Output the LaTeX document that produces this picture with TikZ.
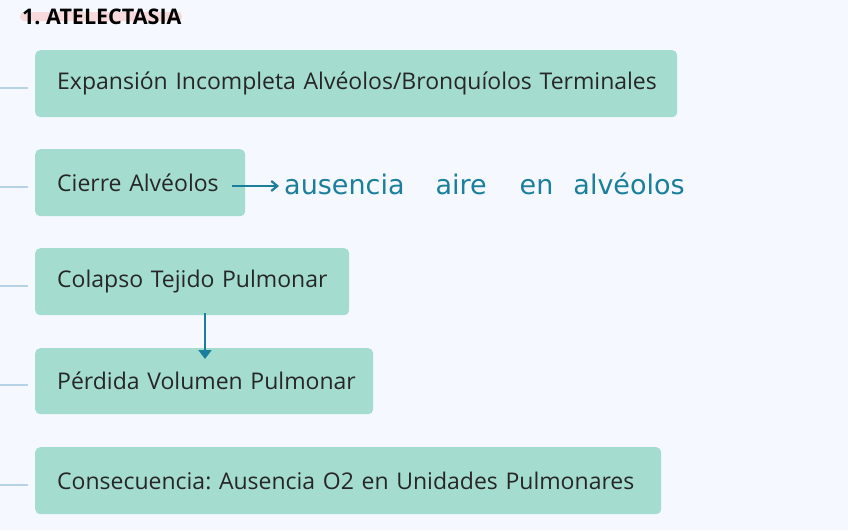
\documentclass[tikz,border=0pt]{standalone}
\usepackage{fontspec}
\setmainfont{Open Sans}
\newfontfamily\handfont{DejaVu Sans}
\usetikzlibrary{arrows.meta}
\frenchspacing
\definecolor{bg}{HTML}{F5F9FF}
\definecolor{boxfill}{HTML}{A4DDCF}
\definecolor{linkc}{HTML}{B5D3E4}
\definecolor{ink}{HTML}{1B7F9B}
\definecolor{hl}{HTML}{F8DADD}
\tikzset{
  topic/.style={fill=boxfill, rounded corners=5pt, anchor=north west, inner sep=0pt, text=black!85, font=\fontsize{23}{26}\selectfont},
  stub/.style={draw=linkc, line width=2pt},
  handarrow/.style={draw=ink, line width=2.2pt, -{Straight Barb[length=6pt,width=10pt]}},
}
\begin{document}
\begin{tikzpicture}[x=1pt,y=-1pt]
\useasboundingbox[fill=bg] (0,0) rectangle (848,530);
% title
\fill[hl, rounded corners=4pt] (20,12) rectangle (182,21);
\node[anchor=west, font=\bfseries\fontsize{21.5}{24}\selectfont, text=black, inner sep=0pt] (title) at (22,16.5) {1. ATELECTASIA};
% boxes
\node[topic, minimum width=642, minimum height=67, text width=642, align=left] (b1) at (35,50) {\hspace*{22pt}Expansión Incompleta Alvéolos/Bronquíolos Terminales};
\node[topic, minimum width=210, minimum height=67, text width=210, align=left] (b2) at (35,149) {\hspace*{22pt}Cierre Alvéolos};
\node[topic, minimum width=314, minimum height=67, text width=314, align=left] (b3) at (35,248) {\hspace*{22pt}Colapso Tejido Pulmonar};
\node[topic, minimum width=338, minimum height=66, text width=338, align=left] (b4) at (35,348) {\hspace*{22pt}Pérdida Volumen Pulmonar};
\node[topic, minimum width=626, minimum height=67, text width=626, align=left] (b5) at (35,447) {\hspace*{22pt}Consecuencia: Ausencia O2 en Unidades Pulmonares};
% stubs
\foreach \b in {b1,b2,b3,b4,b5}{
  \coordinate (s\b) at ([xshift=-35pt,yshift=-4pt]\b.west);
  \draw[stub] (s\b) -- ([xshift=-7pt,yshift=-4pt]\b.west);
}
% handwritten note
\coordinate (h0) at (232,186);
\coordinate (h1) at (279,186);
\node[anchor=west, text=ink, font=\handfont\fontsize{27}{30}\selectfont, inner sep=0pt] (note) at (284,184) {ausencia\hspace{31pt}aire\hspace{33pt}en\hspace{20pt}alvéolos};
\draw[handarrow] (h0) -- (h1);
% arrow between boxes
\coordinate (a0) at (205,313);
\draw[draw=ink, line width=2.2pt, -{Triangle[length=9pt,width=13pt]}] (a0) -- ([yshift=-11pt]b4.north -| a0);
\end{tikzpicture}
\end{document}
